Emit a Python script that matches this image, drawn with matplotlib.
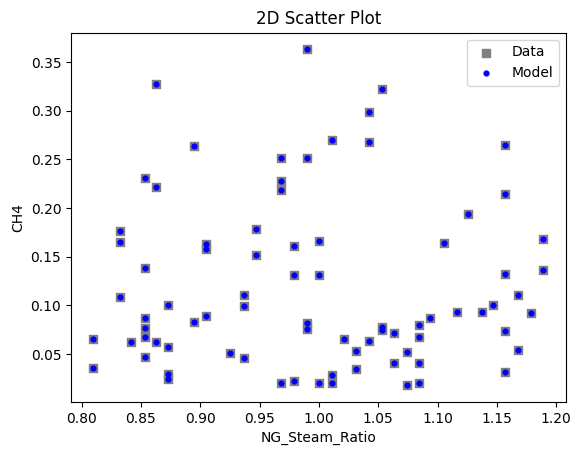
import matplotlib
matplotlib.use("Agg")
import matplotlib.pyplot as plt

ng_steam_ratio = [
    0.863, 0.895, 0.853, 0.863,
    0.832, 0.832, 0.853, 0.905, 0.905, 0.832, 0.873, 0.905, 0.895, 0.853, 0.853,
    0.853, 0.810, 0.842, 0.863, 0.873, 0.853, 0.810, 0.873, 0.873, 0.925,
    0.990, 1.053, 1.042, 1.011, 1.042, 0.968, 0.990, 0.968, 0.968,
    0.947, 0.979, 1.000, 0.947, 0.979, 1.000, 0.937, 0.937, 0.990, 0.990, 1.053,
    1.053, 1.021, 1.042, 1.031, 0.937, 1.031, 1.011, 1.011, 0.968, 0.979, 1.000,
    1.157, 1.157, 1.126,
    1.105, 1.189, 1.189, 1.157, 1.168, 1.147, 1.116, 1.137, 1.179, 1.094, 1.084,
    1.084, 1.063, 1.157, 1.074, 1.063, 1.084, 1.168, 1.157, 1.074, 1.084,
]
ch4_data = [
    0.328, 0.264, 0.231, 0.222,
    0.176, 0.165, 0.138, 0.163, 0.158, 0.109, 0.100, 0.089, 0.083, 0.087, 0.077,
    0.068, 0.065, 0.062, 0.062, 0.057, 0.047, 0.036, 0.030, 0.024, 0.051,
    0.363, 0.322, 0.299, 0.270, 0.268, 0.252, 0.251, 0.228, 0.219,
    0.179, 0.161, 0.166, 0.152, 0.131, 0.131, 0.111, 0.099, 0.082, 0.076, 0.078,
    0.075, 0.066, 0.063, 0.053, 0.046, 0.035, 0.028, 0.020, 0.020, 0.022, 0.020,
    0.265, 0.214, 0.194,
    0.164, 0.168, 0.136, 0.132, 0.111, 0.100, 0.093, 0.093, 0.092, 0.087, 0.080,
    0.068, 0.072, 0.074, 0.052, 0.041, 0.041, 0.054, 0.032, 0.018, 0.020,
]
ch4_model = list(ch4_data)

fig = plt.figure(figsize=(5.81, 4.55), dpi=100)
W, H = 581, 455
ax = fig.add_axes([71 / W, (H - 402) / H, 494.7 / W, 369.3 / H])

ax.scatter(ng_steam_ratio, ch4_data, marker='s', color='gray', s=40, label='Data')
ax.scatter(ng_steam_ratio, ch4_model, marker='o', color='blue', s=12, label='Model')

ax.set_title('2D Scatter Plot')
ax.set_xlabel('NG_Steam_Ratio')
ax.set_ylabel('CH4')
ax.legend(loc='upper right')

fig.savefig('out.png', dpi=100)
